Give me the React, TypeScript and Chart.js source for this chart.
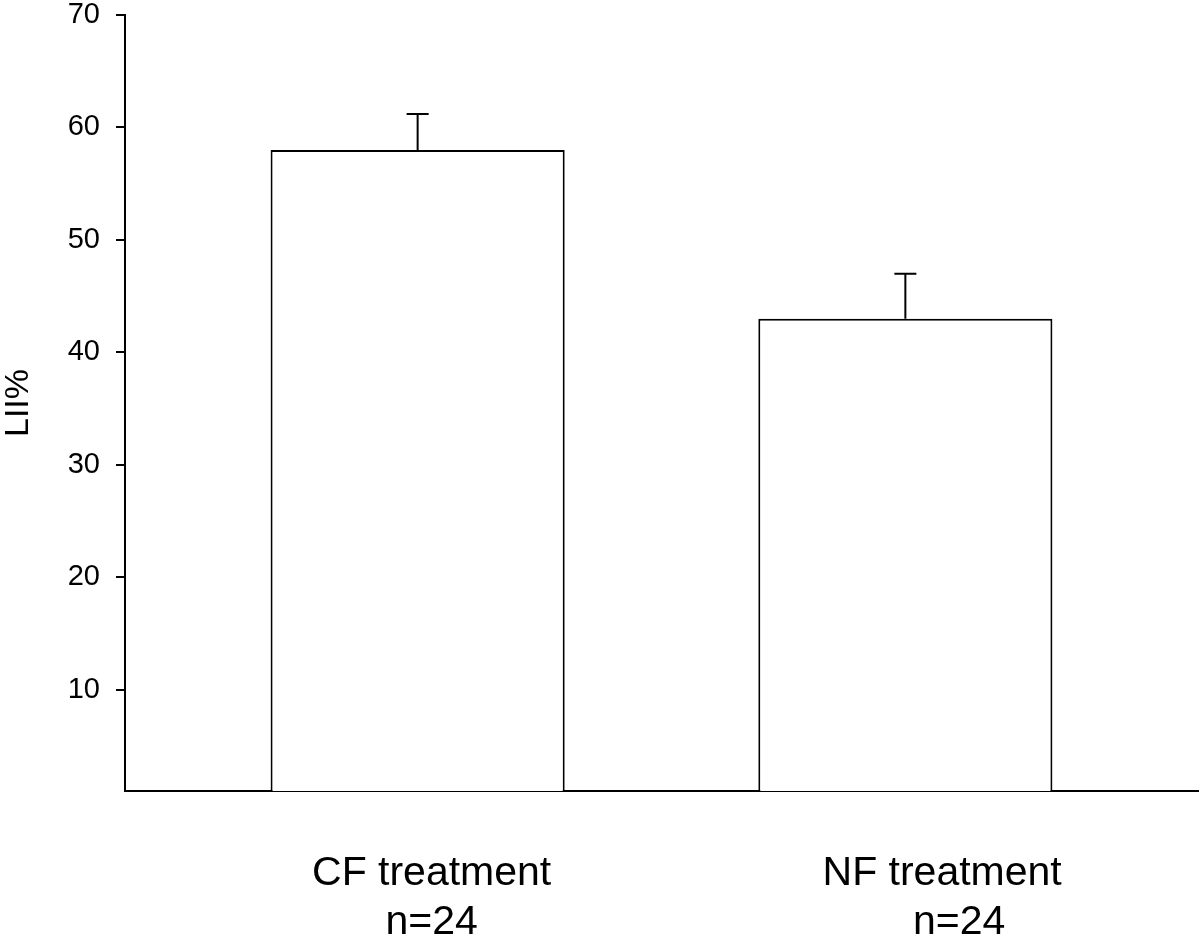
import React, { useEffect, useRef } from "react";
import { Chart, registerables } from "chart.js";

Chart.register(...registerables);

// ---- data ----
const groupIndex = [1, 2];
const categoryLabels: string[][] = [
  ["CF treatment", "n=24"],
  ["    NF treatment", "       n=24"],
];
const lliMeans = [58.0, 43.0];
const lliErrors = [3.2, 4.0];
const yTickValues = [10, 20, 30, 40, 50, 60, 70];
const yMin = 1;
const yMax = 70;
const xMin = 0.4;
const xMax = 2.6;

const FONT = "'Liberation Sans', Arial, Helvetica, sans-serif";

const errorBarPlugin = {
  id: "errorBars",
  afterDatasetsDraw(chart: any) {
    const meta = chart.getDatasetMeta(0);
    const yScale = chart.scales.y;
    const ctx = chart.ctx;
    ctx.save();
    ctx.strokeStyle = "#000";
    ctx.lineWidth = 2;
    meta.data.forEach((el: any, i: number) => {
      const top = yScale.getPixelForValue(lliMeans[i] + lliErrors[i]);
      const x = el.x;
      ctx.beginPath();
      ctx.moveTo(x, el.y);
      ctx.lineTo(x, top);
      ctx.moveTo(x - 11, top);
      ctx.lineTo(x + 11, top);
      ctx.stroke();
    });
    ctx.restore();
  },
};

export default function App() {
  const ref = useRef<HTMLCanvasElement | null>(null);

  useEffect(() => {
    if (!ref.current) return;
    const chart = new Chart(ref.current, {
      type: "bar",
      data: {
        datasets: [
          {
            data: groupIndex.map((g, i) => ({ x: g, y: [yMin, lliMeans[i]] })) as any,
            backgroundColor: "#ffffff",
            borderColor: "#000000",
            borderWidth: 2,
            borderSkipped: "start",
            barPercentage: 0.603,
            categoryPercentage: 1,
          },
        ],
      },
      options: {
        animation: false,
        responsive: false,
        layout: { padding: { top: 0, right: 2, left: 0, bottom: 0 } },
        plugins: {
          legend: { display: false },
          tooltip: { enabled: false },
        },
        scales: {
          x: {
            type: "linear",
            offset: false,
            min: xMin,
            max: xMax,
            grid: { display: false, drawTicks: false, offset: false },
            border: { display: true, color: "#000", width: 2 },
            afterBuildTicks: (s: any) => {
              s.ticks = groupIndex.map((v) => ({ value: v }));
            },
            afterFit: (s: any) => {
              s.height = 150;
              s.paddingLeft = 0;
              s.paddingRight = 0;
            },
            ticks: {
              autoSkip: false,
              maxRotation: 0,
              minRotation: 0,
              padding: 58,
              labelOffset: 14,
              color: "#000",
              font: { family: FONT, size: 41, lineHeight: 1.2 },
              callback: (v: any) => {
                const i = groupIndex.indexOf(Number(v));
                return i >= 0 ? categoryLabels[i] : "";
              },
            },
          },
          y: {
            type: "linear",
            min: yMin,
            max: yMax,
            grid: {
              display: true,
              drawOnChartArea: false,
              drawTicks: true,
              tickLength: 9,
              color: "#000",
              lineWidth: 2,
            },
            border: { display: true, color: "#000", width: 2 },
            afterBuildTicks: (s: any) => {
              s.ticks = yTickValues.map((v) => ({ value: v }));
            },
            afterFit: (s: any) => {
              s.width = 125;
              s.paddingTop = 15;
              s.paddingBottom = 0;
            },
            ticks: {
              padding: 16,
              color: "#000",
              font: { family: FONT, size: 29 },
            },
            title: {
              display: true,
              text: "LII%",
              color: "#000",
              font: { family: FONT, size: 34, lineHeight: 37 / 34 },
              padding: 0,
            },
          },
        },
      },
      plugins: [errorBarPlugin],
    });
    return () => chart.destroy();
  }, []);

  return (
    <div style={{ position: "absolute", left: 0, top: 0, width: 1200, height: 941, background: "#fff" }}>
      <canvas ref={ref} width={1200} height={941} style={{ display: "block" }} />
    </div>
  );
}
